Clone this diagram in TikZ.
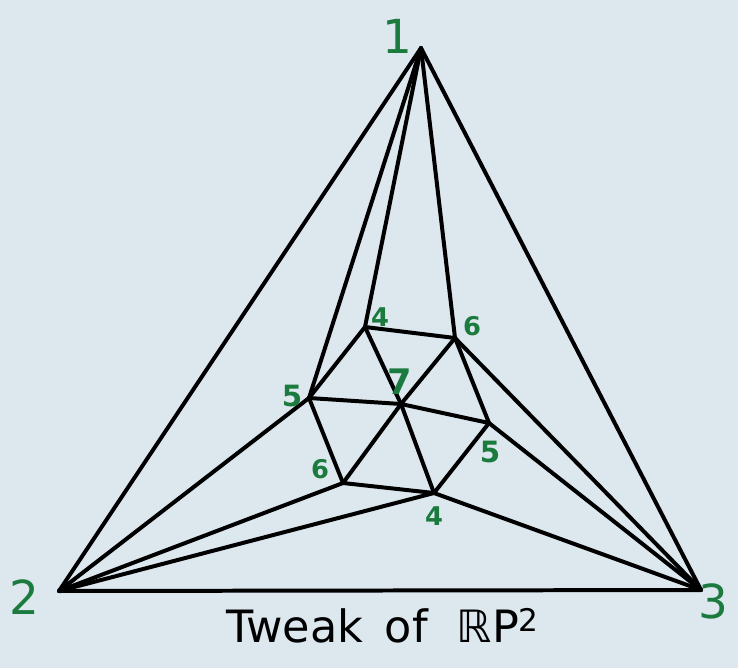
\documentclass[tikz,border=0pt]{standalone}
\usepackage{fontspec}
\setmainfont{DejaVu Sans}
\begin{document}
\begin{tikzpicture}[x=0.03cm,y=-0.03cm,
  edge/.style={line width=3.4pt,line join=round,line cap=round},
  lab/.style={text=labgreen,font=\fontsize{22}{22}\selectfont\bfseries},
  biglab/.style={text=labgreen,font=\fontsize{40}{40}\selectfont}]
\definecolor{bg}{HTML}{DCE7EE}
\definecolor{labgreen}{HTML}{1B7A3E}
\fill[bg] (0,0) rectangle (738,668);
\useasboundingbox (0,0) rectangle (738,668);
\coordinate (v1) at (421,48);
\coordinate (v2) at (59,591);
\coordinate (v3) at (701,590);
\coordinate (a4) at (365,327);
\coordinate (a6) at (455,338);
\coordinate (b5) at (489,423);
\coordinate (b4) at (434,493);
\coordinate (c6) at (343,483);
\coordinate (c5) at (309,398);
\coordinate (m7) at (401,404);
\draw[edge] (v1) -- (v2) -- (v3) -- cycle;
\draw[edge] (a4) -- (a6) -- (b5) -- (b4) -- (c6) -- (c5) -- cycle;
\foreach \p in {a4,a6,b5,b4,c6,c5} \draw[edge] (m7) -- (\p);
\foreach \p in {a4,a6,c5} \draw[edge] (v1) -- (\p);
\foreach \p in {c5,c6,b4} \draw[edge] (v2) -- (\p);
\foreach \p in {a6,b5,b4} \draw[edge] (v3) -- (\p);
\node[biglab] (l1) at (397,36) {1};
\node[biglab] (l2) at (24,597) {2};
\node[biglab] (l3) at (713,601) {3};
\node[lab] (la4) at (380,317) {4};
\node[lab] (la6) at (472,326) {6};
\node[lab,font=\fontsize{30}{30}\selectfont\bfseries] (lm7) at (400,382) {7};
\node[lab,font=\fontsize{25}{25}\selectfont\bfseries] (lc5) at (292,396) {5};
\node[lab,font=\fontsize{25}{25}\selectfont\bfseries] (lb5) at (490,452) {5};
\node[lab] (lc6) at (320,469) {6};
\node[lab] (lb4) at (434,516) {4};
\node[font=\fontsize{38}{38}\selectfont,anchor=base] (t) at (383,642) {Tweak\, of \,\,ℝP\textsuperscript{2}};
\end{tikzpicture}
\end{document}
